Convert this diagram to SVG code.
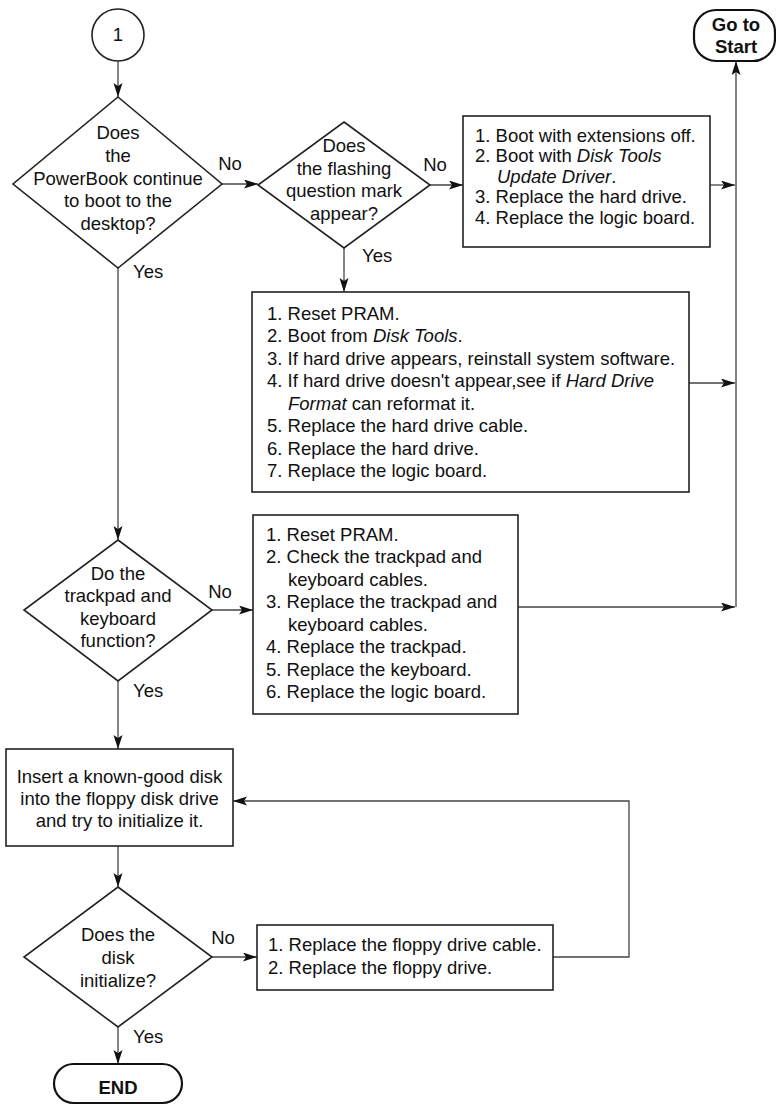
<svg xmlns="http://www.w3.org/2000/svg" width="776" height="1107" viewBox="0 0 776 1107">
<defs>
<style>
text{font-family:"Liberation Sans",Arial,sans-serif;font-size:18.5px;fill:#111}
.c{text-anchor:middle}
.b{font-weight:bold}
.i{font-style:italic}
.shape{fill:#fff;stroke:#222;stroke-width:1.6}
.pill{fill:#fff;stroke:#111;stroke-width:2.2}
.con{fill:none;stroke:#444;stroke-width:1.3}
</style>
<marker id="ah" markerUnits="userSpaceOnUse" markerWidth="15" markerHeight="10" refX="14" refY="4.5" orient="auto">
<path d="M0,0 L14,4.5 L0,9 L3,4.5 z" fill="#111"/>
</marker>
</defs>
<rect width="776" height="1107" fill="#fff"/>

<g id="connectors">
<line class="con" x1="118" y1="61" x2="118" y2="97" marker-end="url(#ah)"/>
<line class="con" x1="222" y1="184" x2="258" y2="184" marker-end="url(#ah)"/>
<line class="con" x1="430" y1="185" x2="463" y2="185" marker-end="url(#ah)"/>
<line class="con" x1="710" y1="185" x2="735" y2="185" marker-end="url(#ah)"/>
<line class="con" x1="344" y1="248" x2="344" y2="292" marker-end="url(#ah)"/>
<line class="con" x1="689" y1="383" x2="735" y2="383" marker-end="url(#ah)"/>
<line class="con" x1="736" y1="607" x2="736" y2="61" marker-end="url(#ah)"/>
<line class="con" x1="118" y1="268" x2="118" y2="540" marker-end="url(#ah)"/>
<line class="con" x1="212" y1="610" x2="253" y2="610" marker-end="url(#ah)"/>
<line class="con" x1="518" y1="607" x2="735" y2="607" marker-end="url(#ah)"/>
<line class="con" x1="118" y1="681" x2="118" y2="749" marker-end="url(#ah)"/>
<line class="con" x1="118" y1="846" x2="118" y2="887" marker-end="url(#ah)"/>
<line class="con" x1="212" y1="957" x2="257" y2="957" marker-end="url(#ah)"/>
<polyline class="con" points="553,957 629,957 629,801 233,801" marker-end="url(#ah)"/>
<line class="con" x1="118" y1="1027" x2="118" y2="1064" marker-end="url(#ah)"/>
<text class="c" x="230" y="170">No</text>
<text x="133" y="278">Yes</text>
<text class="c" x="435" y="171">No</text>
<text x="362" y="262">Yes</text>
<text class="c" x="220" y="598">No</text>
<text x="133" y="697">Yes</text>
<text class="c" x="223" y="944">No</text>
<text x="133" y="1043">Yes</text>
</g>

<g id="connector1">
<circle class="shape" cx="118" cy="35" r="26"/>
<text class="c" x="118" y="41">1</text>
</g>

<g id="gotostart">
<rect class="pill" x="694" y="10" width="81" height="51" rx="22"/>
<text class="c b" x="736" y="31">Go to</text>
<text class="c b" x="736" y="53">Start</text>
</g>

<g id="decision1">
<polygon class="shape" points="118,97 222,184 118,268 13,184"/>
<text class="c" x="118" y="139">Does</text>
<text class="c" x="118" y="162">the</text>
<text class="c" x="118" y="185">PowerBook continue</text>
<text class="c" x="118" y="207">to boot to the</text>
<text class="c" x="118" y="230">desktop?</text>
</g>

<g id="decision2">
<polygon class="shape" points="344,122 430,185 344,248 258,185"/>
<text class="c" x="344" y="152">Does</text>
<text class="c" x="344" y="174.5">the flashing</text>
<text class="c" x="344" y="197">question mark</text>
<text class="c" x="344" y="219.5">appear?</text>
</g>

<g id="box-extensions">
<rect class="shape" x="463" y="116" width="247" height="131"/>
<text x="475" y="141.5">1. Boot with extensions off.</text>
<text x="475" y="162">2. Boot with <tspan class="i">Disk Tools</tspan></text>
<text x="497" y="182.5"><tspan class="i">Update Driver</tspan>.</text>
<text x="475" y="203">3. Replace the hard drive.</text>
<text x="475" y="223.5">4. Replace the logic board.</text>
</g>

<g id="box-pram">
<rect class="shape" x="252" y="292" width="437" height="200"/>
<text x="267" y="319.5">1. Reset PRAM.</text>
<text x="267" y="342">2. Boot from <tspan class="i">Disk Tools</tspan>.</text>
<text x="267" y="364.5">3. If hard drive appears, reinstall system software.</text>
<text x="267" y="387">4. If hard drive doesn't appear,see if <tspan class="i">Hard Drive</tspan></text>
<text x="288" y="409.5"><tspan class="i">Format</tspan> can reformat it.</text>
<text x="267" y="432">5. Replace the hard drive cable.</text>
<text x="267" y="454.5">6. Replace the hard drive.</text>
<text x="267" y="477">7. Replace the logic board.</text>
</g>

<g id="decision3">
<polygon class="shape" points="118,540 212,610 118,681 24,610"/>
<text class="c" x="118" y="580">Do the</text>
<text class="c" x="118" y="602">trackpad and</text>
<text class="c" x="118" y="624.5">keyboard</text>
<text class="c" x="118" y="647">function?</text>
</g>

<g id="box-trackpad">
<rect class="shape" x="253" y="515" width="265" height="199"/>
<text x="266" y="540.5">1. Reset PRAM.</text>
<text x="266" y="563">2. Check the trackpad and</text>
<text x="288" y="585.5">keyboard cables.</text>
<text x="266" y="608">3. Replace the trackpad and</text>
<text x="288" y="630.5">keyboard cables.</text>
<text x="266" y="653">4. Replace the trackpad.</text>
<text x="266" y="675.5">5. Replace the keyboard.</text>
<text x="266" y="698">6. Replace the logic board.</text>
</g>

<g id="box-insert">
<rect class="shape" x="6" y="749" width="227" height="97"/>
<text class="c" x="119.5" y="783">Insert a known-good disk</text>
<text class="c" x="119.5" y="805">into the floppy disk drive</text>
<text class="c" x="119.5" y="827">and try to initialize it.</text>
</g>

<g id="decision4">
<polygon class="shape" points="118,887 212,957 118,1027 24,957"/>
<text class="c" x="118" y="940.5">Does the</text>
<text class="c" x="118" y="963.5">disk</text>
<text class="c" x="118" y="986.5">initialize?</text>
</g>

<g id="box-floppy">
<rect class="shape" x="257" y="925" width="296" height="65"/>
<text x="268" y="951">1. Replace the floppy drive cable.</text>
<text x="268" y="974">2. Replace the floppy drive.</text>
</g>

<g id="end">
<rect class="pill" x="54" y="1064" width="128" height="39" rx="19.5"/>
<text class="c b" x="118" y="1094">END</text>
</g>
</svg>
